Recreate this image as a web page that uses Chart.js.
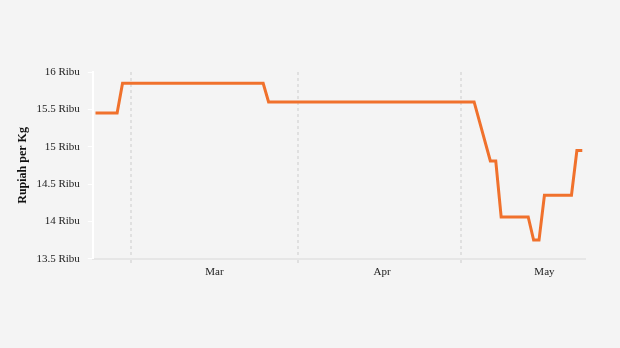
<!DOCTYPE html>
<html>
<head>
<meta charset="utf-8">
<script src="https://cdn.jsdelivr.net/npm/chart.js@4"></script>
<style>
  html, body { margin: 0; padding: 0; background: #f4f4f4; }
  #wrap { width: 620px; height: 348px; }
</style>
</head>
<body>
<div id="wrap"><canvas id="chart"></canvas></div>
<script>
// price change points (daily series, flat between points)
const priceDates = ['2023-02-22', '2023-02-26', '2023-02-27', '2023-03-25', '2023-03-26', '2023-05-03',
  '2023-05-06', '2023-05-07', '2023-05-08', '2023-05-13', '2023-05-14', '2023-05-15',
  '2023-05-16', '2023-05-21', '2023-05-22', '2023-05-23'];
const priceValues = [15.45, 15.45, 15.85, 15.85, 15.6, 15.6,
  14.81, 14.81, 14.06, 14.06, 13.75, 13.75,
  14.35, 14.35, 14.95, 14.95];
const monthNames = ['Jan', 'Feb', 'Mar', 'Apr', 'May', 'Jun'];
const yTicks = [13.5, 14, 14.5, 15, 15.5, 16];

// all days on the axis
const days = [];
let cur = new Date(priceDates[0] + 'T00:00:00Z');
const last = new Date(priceDates[priceDates.length - 1] + 'T00:00:00Z');
while (cur <= last) {
  days.push(cur.toISOString().slice(0, 10));
  cur = new Date(cur.getTime() + 86400000);
}

const serif = "'Liberation Serif', 'DejaVu Serif', serif";

new Chart(document.getElementById('chart'), {
  type: 'line',
  data: {
    datasets: [{
      label: 'Harga',
      data: priceDates.map((d, i) => ({ x: d, y: priceValues[i] })),
      borderColor: '#f0712c',
      borderWidth: 3,
      pointRadius: 0,
      tension: 0,
      fill: false
    }]
  },
  options: {
    responsive: true,
    maintainAspectRatio: false,
    animation: false,
    layout: { padding: { top: 72, right: 35, bottom: 67, left: 16 } },
    plugins: { legend: { display: false }, tooltip: { enabled: false } },
    scales: {
      x: {
        type: 'category',
        labels: days,
        offset: true,
        grid: {
          offset: true,
          lineWidth: 2,
          color: ctx => (days[ctx.index] && days[ctx.index].slice(8) === '01') ? '#e0e0e0' : 'rgba(0,0,0,0)',
          tickLength: 5,
          tickBorderDash: [3, 3]
        },
        border: { color: '#e6e6e6', width: 2, dash: [3, 3] },
        ticks: {
          autoSkip: false,
          maxRotation: 0,
          padding: 2,
          color: '#222',
          font: { family: serif, size: 11 },
          callback: (v, i) => days[i].slice(8) === '16' ? monthNames[+days[i].slice(5, 7) - 1] : ''
        }
      },
      y: {
        min: yTicks[0],
        max: yTicks[yTicks.length - 1],
        afterBuildTicks: axis => { axis.ticks = yTicks.map(v => ({ value: v })); },
        grid: { drawOnChartArea: false, color: '#ffffff', tickLength: 5 },
        border: { color: '#ffffff', width: 2 },
        ticks: {
          padding: 8,
          color: '#222',
          font: { family: serif, size: 11 },
          callback: v => v + ' Ribu'
        },
        title: {
          display: true,
          text: 'Rupiah per Kg',
          color: '#111',
          font: { family: serif, size: 12, weight: 'bold' },
          padding: { top: 0, bottom: -2 }
        }
      }
    }
  }
});
</script>
</body>
</html>
